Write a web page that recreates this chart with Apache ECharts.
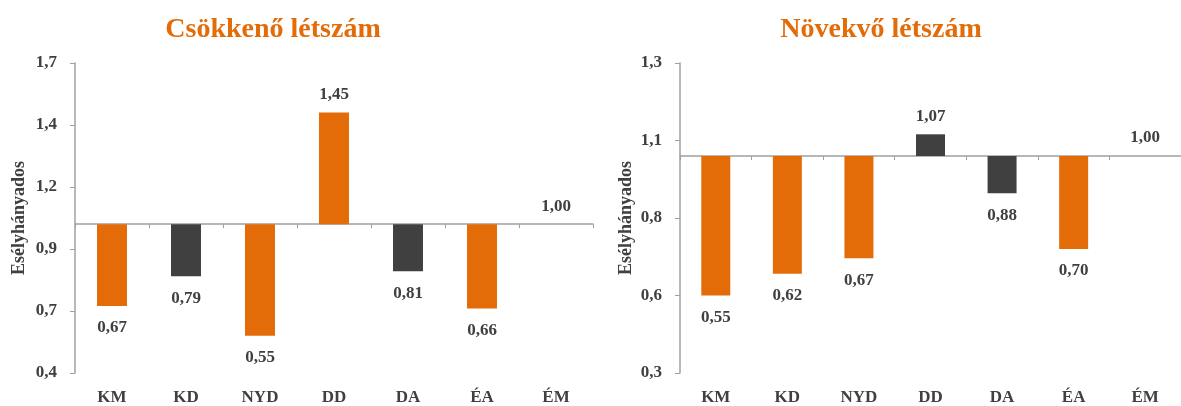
<!DOCTYPE html>
<html>
<head>
<meta charset="utf-8">
<script src="https://cdn.jsdelivr.net/npm/echarts@6/dist/echarts.min.js"></script>
<style>
  html, body { margin: 0; padding: 0; background: #ffffff; }
  #chart { width: 1181px; height: 406px; }
</style>
</head>
<body>
<div id="chart"></div>
<script>
// Odds ratios by category, relative to the reference group ÉM (1,00)
const categories = ['KM', 'KD', 'NYD', 'DD', 'DA', 'ÉA', 'ÉM'];

const decreasingTitle = 'Csökkenő létszám';
const decreasingValues = [0.67, 0.79, 0.55, 1.45, 0.81, 0.66, 1.00];
const decreasingSignificant = [true, false, true, true, false, true, false];
const decreasingTicks = [0.4, 0.65, 0.9, 1.15, 1.4, 1.65];
const decreasingTickLabels = ['0,4', '0,7', '0,9', '1,2', '1,4', '1,7'];

const increasingTitle = 'Növekvő létszám';
const increasingValues = [0.55, 0.62, 0.67, 1.07, 0.88, 0.70, 1.00];
const increasingSignificant = [true, true, true, false, false, true, false];
const increasingTicks = [0.3, 0.55, 0.8, 1.05, 1.3];
const increasingTickLabels = ['0,3', '0,6', '0,8', '1,1', '1,3'];

const axisTitle = 'Esélyhányados';
const referenceValue = 1.0;

// ---- styling ----
const FONT = '"Liberation Serif", "DejaVu Serif", serif';
const ORANGE = '#E36C09';
const DARK = '#404040';
const TEXT = '#404040';
const AXIS = '#A0A0A0';

const chart = echarts.init(document.getElementById('chart'), null, { renderer: 'canvas' });

function tickFormatter(ticks, labels) {
  return function (v) {
    let best = 0;
    for (let i = 1; i < ticks.length; i++) {
      if (Math.abs(ticks[i] - v) < Math.abs(ticks[best] - v)) best = i;
    }
    return labels[best];
  };
}

function formatValue(v) {
  return v.toFixed(2).replace('.', ',');
}

function panel(idx, layout, ticks, labels, values, significant) {
  const interval = ticks[1] - ticks[0];
  const min = ticks[0];
  const max = ticks[ticks.length - 1];
  const xBase = idx * 2;
  const yBase = idx * 2;
  return {
    grid: { left: layout.left, top: 63, width: layout.width, height: 310, containLabel: false },
    xAxis: [
      {
        // category labels along the bottom
        type: 'category', gridIndex: idx, data: categories, position: 'bottom',
        axisLine: { show: false, onZero: false },
        axisTick: { show: false },
        axisLabel: { margin: 16, color: TEXT, fontFamily: FONT, fontWeight: 'bold', fontSize: 17 },
        splitLine: { show: false }
      },
      {
        // baseline drawn at the reference value
        type: 'category', gridIndex: idx, data: categories, position: 'bottom',
        axisLine: { show: true, onZero: true, onZeroAxisIndex: yBase + 1, lineStyle: { color: AXIS, width: 1.5 } },
        axisTick: { show: true, length: 4, inside: false, lineStyle: { color: AXIS, width: 1 } },
        axisLabel: { show: false },
        splitLine: { show: false }
      }
    ],
    yAxis: [
      {
        type: 'value', gridIndex: idx, position: 'left',
        min: min, max: max, interval: interval,
        axisLine: { show: true, onZero: false, lineStyle: { color: AXIS, width: 1.5 } },
        axisTick: { show: true, length: 5, inside: false, lineStyle: { color: AXIS, width: 1 } },
        axisLabel: { margin: 18, color: TEXT, fontFamily: FONT, fontWeight: 'bold', fontSize: 17,
                     formatter: tickFormatter(ticks, labels) },
        splitLine: { show: false },
        name: axisTitle, nameLocation: 'middle', nameRotate: 90, nameGap: layout.nameGap,
        nameTextStyle: { color: TEXT, fontFamily: FONT, fontWeight: 'bold', fontSize: 18 }
      },
      {
        // same scale shifted so that zero sits on the reference value
        type: 'value', gridIndex: idx, show: false,
        min: min - referenceValue, max: max - referenceValue,
        axisLine: { onZero: false }, splitLine: { show: false }
      }
    ],
    series: {
      type: 'custom',
      xAxisIndex: xBase, yAxisIndex: yBase,
      data: values.map((v, i) => [i, v, significant[i] ? 1 : 0]),
      clip: false,
      renderItem: function (params, api) {
        const i = api.value(0);
        const v = api.value(1);
        const sig = api.value(2);
        const base = api.coord([i, referenceValue]);
        const end = api.coord([i, v]);
        const bw = api.size([1, 0])[0] * 0.405;
        const top = Math.min(base[1], end[1]);
        const h = Math.abs(base[1] - end[1]);
        const below = v < referenceValue;
        const ly = below ? end[1] + 22 : end[1] - 18;
        return {
          type: 'group',
          children: [
            {
              type: 'rect',
              shape: { x: base[0] - bw / 2, y: top, width: bw, height: h },
              style: { fill: sig ? ORANGE : DARK }
            },
            {
              type: 'text',
              style: {
                text: formatValue(v), x: base[0], y: ly,
                align: 'center', verticalAlign: 'middle',
                fill: TEXT, fontFamily: FONT, fontWeight: 'bold', fontSize: 17
              }
            }
          ]
        };
      }
    }
  };
}

const left = panel(0, { left: 75, width: 518, nameGap: 47 },
  decreasingTicks, decreasingTickLabels, decreasingValues, decreasingSignificant);
const right = panel(1, { left: 680, width: 520, nameGap: 45 },
  increasingTicks, increasingTickLabels, increasingValues, increasingSignificant);

const titleStyle = { color: ORANGE, fontFamily: FONT, fontWeight: 'bold', fontSize: 28 };

chart.setOption({
  animation: false,
  backgroundColor: '#ffffff',
  title: [
    { text: decreasingTitle, left: 268, top: 11, textAlign: 'center', textStyle: titleStyle },
    { text: increasingTitle, left: 876, top: 11, textAlign: 'center', textStyle: titleStyle }
  ],
  grid: [left.grid, right.grid],
  xAxis: left.xAxis.concat(right.xAxis),
  yAxis: left.yAxis.concat(right.yAxis),
  series: [left.series, right.series]
});
</script>
</body>
</html>
